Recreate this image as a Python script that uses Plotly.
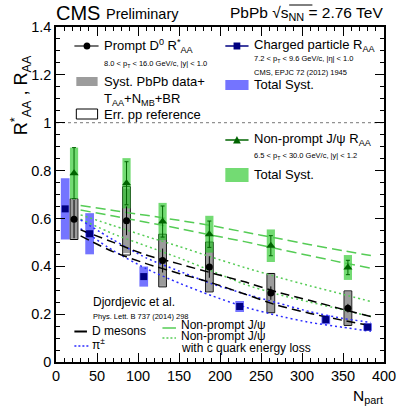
import plotly.graph_objects as go

# ---------------- data ----------------
npart_d0 = [22, 86, 130, 187, 262, 356]
raa_d0 = [0.597, 0.59, 0.424, 0.397, 0.288, 0.225]
stat_d0 = [0.08, 0.06, 0.05, 0.045, 0.028, 0.018]
syst_d0 = [0.082, 0.135, 0.106, 0.101, 0.08, 0.07]
ppref_d0 = [0.085, 0.143, 0.11, 0.104, 0.082, 0.072]

npart_jpsi = [22, 86, 130, 187, 262, 356]
raa_jpsi = [0.789, 0.747, 0.587, 0.534, 0.486, 0.395]
stat_jpsi = [0.107, 0.09, 0.065, 0.055, 0.042, 0.03]
syst_jpsi = [0.107, 0.105, 0.078, 0.077, 0.068, 0.052]

npart_ch = [11.2, 41, 107, 224, 329, 380]
raa_ch = [0.64, 0.536, 0.357, 0.232, 0.177, 0.146]
stat_ch = [0.01, 0.008, 0.006, 0.004, 0.004, 0.003]
syst_ch = [0.128, 0.086, 0.042, 0.023, 0.019, 0.016]

theory_npart = [30, 70, 110, 150, 190, 230, 270, 310, 350, 384]
d_upper = [0.552, 0.50, 0.447, 0.41, 0.372, 0.335, 0.292, 0.257, 0.22, 0.19]
d_lower = [0.527, 0.46, 0.411, 0.37, 0.331, 0.284, 0.237, 0.203, 0.174, 0.152]
pi_upper = [0.594, 0.51, 0.435, 0.38, 0.327, 0.285, 0.247, 0.21, 0.182, 0.165]
pi_lower = [0.557, 0.465, 0.39, 0.33, 0.277, 0.23, 0.194, 0.165, 0.145, 0.128]
bj_upper = [0.654, 0.633, 0.613, 0.592, 0.57, 0.543, 0.517, 0.49, 0.465, 0.445]
bj_lower = [0.635, 0.61, 0.584, 0.558, 0.53, 0.503, 0.473, 0.444, 0.415, 0.392]
bjc_upper = [0.615, 0.57, 0.525, 0.483, 0.438, 0.395, 0.355, 0.318, 0.283, 0.253]
bjc_lower = [0.597, 0.535, 0.485, 0.435, 0.38, 0.325, 0.283, 0.25, 0.218, 0.19]

x_ticks = [0, 50, 100, 150, 200, 250, 300, 350, 400]
y_ticks = [0, 0.2, 0.4, 0.6, 0.8, 1.0, 1.2, 1.4]
y_ticktext = ["0", "0.2", "0.4", "0.6", "0.8", "1", "1.2", "1.4"]

# ---------------- styling ----------------
FONT = "Liberation Sans, Arial, Helvetica, sans-serif"
W, H = 408, 409
L, R, T, B = 56, 395, 27, 362

def px(x):
    return (x - L) / (R - L)

def py(y):
    return (B - y) / (B - T)

GRAY = "rgba(95,95,95,0.62)"
BLUEBOX = "rgba(70,70,255,0.75)"
GREENBOX = "rgba(40,200,40,0.65)"
GREENLINE = "#55cc55"
BLUELINE = "#2a2aff"
NAVY = "#000080"
DGREEN = "#006400"

fig = go.Figure()
shapes = []

# systematic boxes
for n, v, e in zip(npart_ch, raa_ch, syst_ch):
    shapes.append(dict(type="rect", xref="x", yref="y", x0=n - 5.3, x1=n + 5.3,
                       y0=v - e, y1=v + e, fillcolor=BLUEBOX, line=dict(width=0), layer="below"))
for n, v, e in zip(npart_d0, raa_d0, ppref_d0):
    shapes.append(dict(type="rect", xref="x", yref="y", x0=n - 4.7, x1=n + 4.7,
                       y0=v - e, y1=v + e, fillcolor="white", line=dict(color="black", width=1), layer="below"))
for n, v, e in zip(npart_d0, raa_d0, syst_d0):
    shapes.append(dict(type="rect", xref="x", yref="y", x0=n - 4.7, x1=n + 4.7,
                       y0=v - e, y1=v + e, fillcolor=GRAY, line=dict(width=0), layer="below"))
for n, v, e in zip(npart_jpsi, raa_jpsi, syst_jpsi):
    shapes.append(dict(type="rect", xref="x", yref="y", x0=n - 5, x1=n + 5,
                       y0=v - e, y1=v + e, fillcolor=GREENBOX, line=dict(width=0), layer="below"))

# unity line
shapes.append(dict(type="line", xref="x", yref="y", x0=0, x1=400, y0=1, y1=1,
                   line=dict(color="#777777", width=1, dash="dot"), layer="below"))

# theory curves
def curve(y, color, dash, width=1.5):
    fig.add_trace(go.Scatter(x=theory_npart, y=y, mode="lines",
                             line=dict(color=color, dash=dash, width=width, shape="spline", smoothing=0.6),
                             hoverinfo="skip", showlegend=False))

curve(bj_upper, GREENLINE, "10px,5px")
curve(bj_lower, GREENLINE, "10px,5px")
curve(bjc_upper, GREENLINE, "2px,3px")
curve(bjc_lower, GREENLINE, "2px,3px")
curve(pi_upper, BLUELINE, "2px,3px")
curve(pi_lower, BLUELINE, "2px,3px")
curve(d_upper, "black", "9px,5px")
curve(d_lower, "black", "9px,5px")

# data points
fig.add_trace(go.Scatter(x=npart_ch, y=raa_ch, mode="markers",
                         marker=dict(symbol="square", size=7, color=NAVY),
                         error_y=dict(type="data", array=stat_ch, color=NAVY, thickness=1, width=0),
                         showlegend=False))
fig.add_trace(go.Scatter(x=npart_d0, y=raa_d0, mode="markers",
                         marker=dict(symbol="circle", size=7, color="black"),
                         error_y=dict(type="data", array=stat_d0, color="black", thickness=1, width=0),
                         showlegend=False))
fig.add_trace(go.Scatter(x=npart_jpsi, y=raa_jpsi, mode="markers",
                         marker=dict(symbol="triangle-up", size=8, color=DGREEN),
                         error_y=dict(type="data", array=stat_jpsi, color=DGREEN, thickness=1, width=2),
                         showlegend=False))

# ---------------- legend drawing (paper coords) ----------------
def pline(x0, y0, x1, y1, color, dash="solid", width=1.5):
    shapes.append(dict(type="line", xref="paper", yref="paper", x0=px(x0), x1=px(x1), y0=py(y0), y1=py(y1),
                       line=dict(color=color, width=width, dash=dash)))

def prect(x0, y0, x1, y1, fill, lc=None, lw=0):
    shapes.append(dict(type="rect", xref="paper", yref="paper", x0=px(x0), x1=px(x1), y0=py(y1), y1=py(y0),
                       fillcolor=fill, line=dict(color=lc or fill, width=lw)))

pline(75, 46, 100, 46, "#444444")
shapes.append(dict(type="circle", xref="paper", yref="paper", x0=px(84.5), x1=px(91.5), y0=py(49.5), y1=py(42.5),
                   fillcolor="black", line=dict(color="black", width=0)))
prect(77, 77, 99, 86, GRAY)
prect(77, 109, 99, 119, "white", "black", 1)

pline(231, 46, 255, 46, NAVY)
prect(239.5, 42.5, 246.5, 49.5, NAVY)
prect(231, 80, 255, 90, BLUEBOX)

pline(231, 140, 255, 140, DGREEN)
shapes.append(dict(type="path", xref="paper", yref="paper",
                   path="M {} {} L {} {} L {} {} Z".format(px(239), py(143.5), px(247), py(143.5), px(243), py(136)),
                   fillcolor=DGREEN, line=dict(color=DGREEN, width=0)))
prect(231, 168, 255, 182, GREENBOX)

pline(75, 331.5, 88, 331.5, "black", "solid", 2)
pline(75, 346, 91, 346, BLUELINE, "2px,2px", 1.5)
pline(166, 328, 180, 328, GREENLINE, "solid", 1.5)
pline(166, 338, 180, 338, GREENLINE, "2px,2px", 1.5)

# overline on sqrt(s_NN)
shapes.append(dict(type="line", xref="paper", yref="paper", x0=px(297), x1=px(321), y0=py(5), y1=py(5),
                   line=dict(color="black", width=1)))

annotations = []

def text(x, y, s, size, anchor="left", color="black"):
    annotations.append(dict(xref="paper", yref="paper", x=px(x), y=py(y), text=s, showarrow=False,
                            xanchor=anchor, yanchor="middle", font=dict(family=FONT, size=size, color=color)))

text(54, 13, "CMS", 20)
text(106, 14, "Preliminary", 14.5)
text(396, 13, "PbPb √s<sub>NN</sub> = 2.76 TeV", 15.5, "right")

text(104, 46, "Prompt D<sup>0</sup> R<sup>*</sup><sub>AA</sub>", 13)
text(104, 64, "8.0 < p<sub>T</sub> < 16.0 GeV/c, |y| < 1.0", 7.5)
text(104, 81, "Syst. PbPb data+", 13)
text(104, 99, "T<sub>AA</sub>+N<sub>MB</sub>+BR", 13)
text(104, 114, "Err. pp reference", 13)

text(259, 45, "Charged particle R<sub>AA</sub>", 13)
text(259, 59, "7.2 < p<sub>T</sub> < 9.6 GeV/c, |η| < 1.0", 7.5)
text(259, 72, "CMS, EPJC 72 (2012) 1945", 7.5)
text(259, 84, "Total Syst.", 13)

text(259, 139, "Non-prompt J/ψ R<sub>AA</sub>", 13)
text(259, 156, "6.5 < p<sub>T</sub> < 30.0 GeV/c, |y| < 1.2", 7.5)
text(259, 174, "Total Syst.", 13)

text(92, 302, "Djordjevic et al.", 12)
text(92, 316, "Phys. Lett. B 737 (2014) 298", 7.5)
text(91, 331, "D mesons", 12)
text(91, 344, "π<sup>±</sup>", 12)
text(183, 325, "Non-prompt J/ψ", 12)
text(183, 336, "Non-prompt J/ψ", 12)
text(183, 348, "with c quark energy loss", 12)

text(396, 396, "N<sub>part</sub>", 15.5, "right")
annotations.append(dict(xref="paper", yref="paper", x=px(19), y=py(95),
                        text="R<sup>*</sup><sub>AA</sub> , R<sub>AA</sub>",
                        showarrow=False, textangle=-90, xanchor="center", yanchor="middle",
                        font=dict(family=FONT, size=18, color="black")))

axis_common = dict(showgrid=False, zeroline=False, showline=True, linecolor="black", linewidth=1.5,
                   mirror="ticks", ticks="inside", ticklen=9, tickwidth=1.2, tickcolor="black",
                   tickfont=dict(family=FONT, size=14.5, color="black"))

fig.update_layout(
    width=W, height=H,
    margin=dict(l=L, r=W - R, t=T, b=H - B),
    plot_bgcolor="white", paper_bgcolor="white",
    showlegend=False,
    shapes=shapes, annotations=annotations,
    xaxis=dict(range=[0, 400], tickvals=x_ticks, ticktext=[str(v) for v in x_ticks],
               minor=dict(ticks="inside", ticklen=4.5, dtick=10, tickcolor="black", tickwidth=1),
               **axis_common),
    yaxis=dict(range=[0, 1.4], tickvals=y_ticks, ticktext=y_ticktext,
               minor=dict(ticks="inside", ticklen=4.5, dtick=0.05, tickcolor="black", tickwidth=1),
               **axis_common),
)

fig.write_html("out.html", config={"displayModeBar": False},
               post_script="document.body.style.margin='0';document.body.style.overflow='hidden';")
